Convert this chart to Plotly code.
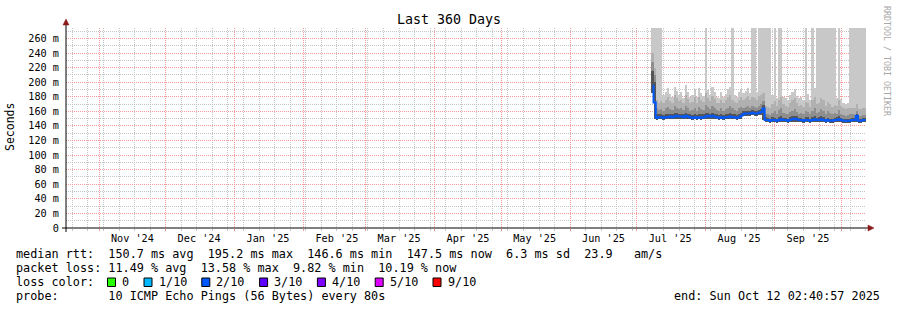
import plotly.graph_objects as go
from datetime import datetime, timedelta

# ---------------- data ----------------
end_time = datetime(2025, 10, 12, 2, 40, 57)
start_time = end_time - timedelta(days=360)
first_bin = datetime(2025, 7, 7, 12, 0, 0)   # first daily bin with data

# median rtt (ms), one value per day
med = [195, 172, 151, 152, 152, 151, 152, 152, 153, 152,
       153, 154, 153, 153, 152, 154, 153, 152, 151, 152,
       151, 152, 151, 152, 153, 154, 153, 154, 153, 152,
       151, 152, 151, 152, 152, 153, 152, 152, 151, 152,
       154, 156, 157, 157, 157, 158, 157, 157, 158, 159,
       164, 148, 148, 147, 148, 148, 147, 148, 149, 148,
       148, 147, 148, 149, 150, 149, 148, 148, 147, 148,
       148, 147, 148, 149, 148, 148, 149, 148, 147, 148,
       147, 147, 148, 148, 149, 148, 147, 147, 147, 147,
       148, 148, 154, 147, 147, 148, 148]
# smoke: lowest ping
ping_lo = [185, 150, 148, 149, 149, 148, 149, 149, 150, 149,
           150, 150, 150, 149, 149, 150, 150, 149, 148, 149,
           148, 149, 148, 149, 150, 150, 150, 150, 150, 149,
           148, 149, 148, 149, 149, 150, 149, 149, 148, 149,
           150, 153, 154, 154, 154, 155, 154, 154, 155, 155,
           148, 145, 145, 144, 145, 145, 144, 145, 146, 145,
           145, 144, 145, 146, 146, 146, 145, 145, 144, 145,
           145, 144, 145, 146, 145, 145, 146, 145, 144, 145,
           144, 144, 145, 145, 146, 145, 144, 144, 144, 144,
           145, 145, 146, 144, 144, 145, 145]
# smoke: inner (dark) band top
ping_dark = [215, 200, 156, 156, 157, 155, 156, 157, 157, 156,
             158, 158, 157, 157, 156, 158, 157, 156, 155, 157,
             155, 157, 156, 156, 158, 158, 157, 158, 157, 156,
             155, 156, 155, 156, 157, 158, 156, 156, 155, 157,
             158, 160, 161, 161, 160, 162, 161, 160, 162, 163,
             169, 152, 151, 150, 152, 151, 150, 152, 153, 151,
             151, 150, 152, 153, 154, 153, 151, 151, 150, 152,
             152, 150, 152, 153, 151, 152, 153, 152, 150, 151,
             150, 150, 151, 152, 153, 151, 150, 150, 150, 150,
             151, 151, 157, 150, 150, 151, 151]
# smoke: middle band top
ping_mid = [228, 210, 164, 162, 163, 161, 164, 166, 163, 162,
            167, 165, 163, 164, 162, 168, 164, 161, 162, 165,
            161, 166, 163, 162, 169, 166, 163, 167, 165, 162,
            161, 164, 161, 163, 165, 167, 164, 162, 161, 164,
            166, 165, 166, 168, 165, 167, 166, 165, 168, 170,
            174, 157, 156, 155, 158, 160, 156, 162, 164, 158,
            157, 156, 159, 161, 163, 159, 157, 158, 156, 160,
            159, 156, 161, 164, 158, 159, 163, 161, 157, 160,
            158, 156, 158, 156, 162, 157, 155, 154, 155, 156,
            156, 155, 160, 154, 154, 155, 155]
# smoke: outer-middle band top
ping_mid2 = [240, 220, 175, 172, 174, 171, 176, 180, 174, 172,
             182, 178, 174, 176, 172, 183, 177, 171, 173, 179,
             172, 180, 175, 173, 185, 178, 174, 181, 177, 172,
             171, 176, 172, 175, 179, 182, 176, 173, 171, 176,
             179, 176, 178, 181, 176, 180, 178, 176, 181, 183,
             185, 168, 166, 165, 170, 174, 167, 176, 179, 170,
             168, 166, 171, 175, 178, 171, 168, 169, 166, 173,
             171, 166, 175, 180, 170, 171, 178, 175, 168, 173,
             170, 166, 169, 167, 176, 168, 164, 163, 164, 165,
             165, 164, 170, 163, 163, 164, 164]
# smoke: highest ping (300 = off the top of the chart)
ping_hi = [300, 300, 300, 300, 300, 182, 186, 192, 184, 180,
           194, 188, 182, 186, 178, 196, 187, 179, 183, 190,
           180, 192, 185, 181, 300, 189, 183, 193, 187, 180,
           178, 186, 180, 184, 190, 194, 300, 182, 179, 186,
           190, 185, 188, 192, 185, 300, 300, 186, 300, 300,
           300, 300, 300, 300, 182, 300, 178, 300, 300, 180,
           178, 175, 182, 187, 190, 181, 178, 179, 176, 300,
           184, 176, 300, 192, 300, 300, 300, 300, 300, 300,
           300, 300, 300, 178, 300, 177, 172, 170, 172, 300,
           300, 300, 300, 300, 300, 300, 300]

month_starts = ["2024-11-01", "2024-12-01", "2025-01-01", "2025-02-01", "2025-03-01",
                "2025-04-01", "2025-05-01", "2025-06-01", "2025-07-01", "2025-08-01",
                "2025-09-01", "2025-10-01"]
month_labels = ["Nov '24", "Dec '24", "Jan '25", "Feb '25", "Mar '25", "Apr '25",
                "May '25", "Jun '25", "Jul '25", "Aug '25", "Sep '25"]

y_vals = [0, 20, 40, 60, 80, 100, 120, 140, 160, 180, 200, 220, 240, 260]
y_text = ["0"] + [f"{v} m" for v in y_vals[1:]]
y_minor = [10, 30, 50, 70, 90, 110, 130, 150, 170, 190, 210, 230, 250, 270]

legend_rows = [
    "median rtt:  150.7 ms avg  195.2 ms max  146.6 ms min  147.5 ms now  6.3 ms sd  23.9   am/s",
    "packet loss: 11.49 % avg  13.58 % max  9.82 % min  10.19 % now",
    "loss color:",
    "probe:       10 ICMP Echo Pings (56 Bytes) every 80s",
]
end_text = "end: Sun Oct 12 02:40:57 2025"
loss_labels = ["0", "1/10", "2/10", "3/10", "4/10", "5/10", "9/10"]
loss_colors = ["#26ff00", "#00b8ff", "#0059ff", "#5e00ff", "#7e00ff", "#dd00ff", "#ff0000"]

# ---------------- layout geometry ----------------
FW, FH = 897, 310
L, T, PW, PH = 66, 28, 800, 200
MONO = "DejaVu Sans Mono"
CW = 7.1          # legend char advance (px)
LFS = 11.8        # legend font size


def fx(p):
    return (p - L) / PW


def fy(p):
    return (T + PH - p) / PH


def nb(s):
    return s.replace(" ", "\u00a0")


DAY_MS = 86400000
bins = [first_bin + timedelta(days=i) for i in range(len(med))]
centers = [b + timedelta(hours=12) for b in bins]

fig = go.Figure()

bands = [(ping_hi, "#c8c8c8"), (ping_mid2, "#b0b0b0"), (ping_mid, "#8e8e8e"), (ping_dark, "#555555")]
for top, col in bands:
    fig.add_trace(go.Bar(
        x=bins, y=[t - l for t, l in zip(top, ping_lo)], base=ping_lo,
        width=DAY_MS, offset=0, marker=dict(color=col, line=dict(width=0)),
        showlegend=False, hoverinfo="skip"))

fig.add_trace(go.Scatter(
    x=centers, y=med, mode="lines", xaxis="x2",
    line=dict(color="#0059ff", width=2, shape="hvh"),
    showlegend=False, hoverinfo="skip"))

label_pos = [datetime.fromisoformat(m) + timedelta(days=15) for m in month_starts[:len(month_labels)]]

grid_red = "#f29a9a"
grid_gray = "#c6c6c6"

fig.update_layout(
    width=FW, height=FH,
    margin=dict(l=L, r=FW - L - PW, t=T, b=FH - T - PH, pad=0),
    paper_bgcolor="white", plot_bgcolor="white",
    barmode="overlay", bargap=0, bargroupgap=0,
    showlegend=False,
    xaxis=dict(
        type="date", range=[start_time, end_time],
        tickmode="array", tickvals=month_starts, ticktext=[""] * len(month_starts),
        showgrid=True, gridcolor=grid_red, gridwidth=1, griddash="1px,1px",
        ticks="outside", ticklen=2, tickcolor=grid_red,
        minor=dict(tickmode="linear", tick0="2024-10-20", dtick=7 * DAY_MS,
                   showgrid=True, gridcolor=grid_gray, gridwidth=1, griddash="1px,1px",
                   ticks="outside", ticklen=2, tickcolor=grid_gray),
        zeroline=False, showline=False, fixedrange=True,
    ),
    xaxis2=dict(
        type="date", range=[start_time, end_time], overlaying="x", anchor="y", side="bottom",
        tickmode="array", tickvals=label_pos, ticktext=month_labels,
        showgrid=False, ticks="", zeroline=False, showline=False,
        ticklabelstandoff=3,
        tickfont=dict(family=MONO, size=10.2, color="#000000"),
    ),
    yaxis=dict(
        range=[0, 274.3], tickmode="array", tickvals=y_vals, ticktext=y_text,
        showgrid=True, gridcolor=grid_red, gridwidth=1, griddash="1px,1px",
        minor=dict(tickmode="array", tickvals=y_minor, showgrid=True,
                   gridcolor=grid_gray, gridwidth=1, griddash="1px,1px"),
        ticks="", zeroline=False, showline=False,
        ticklabelstandoff=6,
        tickfont=dict(family=MONO, size=10.2, color="#000000"),
    ),
)

shapes = []
# axis lines and arrows
shapes.append(dict(type="line", xref="paper", yref="paper", x0=fx(62), x1=fx(868), y0=fy(228), y1=fy(228),
                   line=dict(color="#000000", width=1), layer="above"))
shapes.append(dict(type="line", xref="paper", yref="paper", x0=fx(66), x1=fx(66), y0=fy(232), y1=fy(24),
                   line=dict(color="#000000", width=1), layer="above"))
arrow = "#8b1a1a"
shapes.append(dict(type="path", xref="paper", yref="paper",
                   path=f"M {fx(868)} {fy(225)} L {fx(874)} {fy(228)} L {fx(868)} {fy(231)} Z",
                   fillcolor=arrow, line=dict(color=arrow, width=0.5), layer="above"))
shapes.append(dict(type="path", xref="paper", yref="paper",
                   path=f"M {fx(63)} {fy(25)} L {fx(66)} {fy(19)} L {fx(69)} {fy(25)} Z",
                   fillcolor=arrow, line=dict(color=arrow, width=0.5), layer="above"))

annotations = []
annotations.append(dict(text=nb("Last 360 Days"), xref="paper", yref="paper", x=fx(448.5), y=fy(19),
                        xanchor="center", yanchor="middle", showarrow=False,
                        font=dict(family=MONO, size=13.3, color="#000000")))
annotations.append(dict(text="Seconds", xref="paper", yref="paper", x=fx(10), y=fy(127),
                        xanchor="center", yanchor="middle", textangle=-90, showarrow=False,
                        font=dict(family=MONO, size=11.5, color="#000000")))
annotations.append(dict(text=nb("RRDTOOL / TOBI OETIKER"), xref="paper", yref="paper", x=fx(887), y=fy(4),
                        xanchor="center", yanchor="top", textangle=90, showarrow=False,
                        font=dict(family=MONO, size=8.3, color="#a8a8a8")))

row_y = [254, 268, 282, 296]
for txt, yy in zip(legend_rows, row_y):
    annotations.append(dict(text=nb(txt), xref="paper", yref="paper", x=fx(16), y=fy(yy),
                            xanchor="left", yanchor="middle", showarrow=False,
                            borderpad=0, borderwidth=0,
                            font=dict(family=MONO, size=LFS, color="#000000")))
annotations.append(dict(text=nb(end_text), xref="paper", yref="paper", x=fx(880), y=fy(296),
                        xanchor="right", yanchor="middle", showarrow=False,
                        borderpad=0, borderwidth=0,
                        font=dict(family=MONO, size=LFS, color="#000000")))

bx = 16 + 13 * CW - 0.8
GAP = 14.7
for lab, col in zip(loss_labels, loss_colors):
    shapes.append(dict(type="rect", xref="paper", yref="paper",
                       x0=fx(bx), x1=fx(bx + 8), y0=fy(278), y1=fy(286.5),
                       fillcolor=col, line=dict(color="#000000", width=1), layer="above"))
    tx = bx + GAP
    annotations.append(dict(text=nb(lab), xref="paper", yref="paper", x=fx(tx), y=fy(282),
                            xanchor="left", yanchor="middle", showarrow=False,
                            borderpad=0, borderwidth=0,
                            font=dict(family=MONO, size=LFS, color="#000000")))
    bx = tx + len(lab) * CW + GAP

fig.update_layout(shapes=shapes, annotations=annotations)
fig.write_html("out.html")
